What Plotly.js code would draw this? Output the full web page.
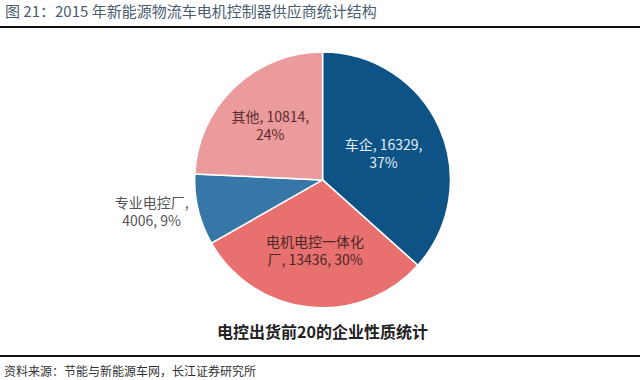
<!DOCTYPE html>
<html>
<head>
<meta charset="utf-8">
<script src="https://cdn.plot.ly/plotly-3.0.1.min.js"></script>
<style>html,body{margin:0;padding:0;background:#fff;}#chart{width:640px;height:380px;}</style>
</head>
<body>
<div id="chart"></div>
<script>
const categories = ['车企', '电机电控一体化厂', '专业电控厂', '其他'];
const values = [16329, 13436, 4006, 10814];
const labelTemplates = [
  '%{label}, %{value:d},<br>%{percent:.0%}',
  '电机电控一体化<br>厂, %{value:d}, %{percent:.0%}',
  '%{label},<br>%{value:d}, %{percent:.0%}',
  '%{label}, %{value:d},<br>%{percent:.0%}'
];
const colors = ['#0d5386', '#e8716f', '#3677a8', '#ec9b9c'];
const textColors = ['#e4eef6', '#4a2626', '#555555', '#5a2c2c'];
const textPositions = ['inside', 'inside', 'outside', 'inside'];

const chartTitle = '图 21：2015 年新能源物流车电机控制器供应商统计结构';
const pieTitle = '电控出货前20的企业性质统计';
const sourceText = '资料来源：节能与新能源车网，长江证券研究所';

const FONT = '"Noto Sans CJK SC", "Noto Sans", sans-serif';

const trace = {
  type: 'pie',
  labels: categories,
  values: values,
  sort: false,
  direction: 'clockwise',
  rotation: 0,
  marker: {colors: colors, line: {color: '#ffffff', width: 1.5}},
  texttemplate: labelTemplates,
  textposition: textPositions,
  insidetextorientation: 'horizontal',
  textfont: {family: FONT, size: 14, color: textColors},
  outsidetextfont: {family: FONT, size: 14, color: '#555555'},
  hoverinfo: 'none',
  showlegend: false,
  automargin: false,
  domain: {x: [0.304, 0.704], y: [0.19, 0.863]}
};

const layout = {
  width: 640, height: 380,
  margin: {l: 0, r: 0, t: 0, b: 0},
  paper_bgcolor: '#ffffff',
  plot_bgcolor: '#ffffff',
  font: {family: FONT},
  shapes: [
    {type: 'line', xref: 'paper', yref: 'paper', x0: 0, x1: 1, y0: 1 - 27/380, y1: 1 - 27/380, line: {color: '#111111', width: 2}},
    {type: 'line', xref: 'paper', yref: 'paper', x0: 0, x1: 1, y0: 1 - 356/380, y1: 1 - 356/380, line: {color: '#111111', width: 2}}
  ],
  annotations: [
    {text: chartTitle, xref: 'paper', yref: 'paper', x: 3/640, y: 1 - 11/380, xanchor: 'left', yanchor: 'middle', showarrow: false, font: {family: FONT, size: 15, color: '#4a5d70'}},
    {text: '<b>' + pieTitle + '</b>', xref: 'paper', yref: 'paper', x: 322/640, y: 1 - 331/380, xanchor: 'center', yanchor: 'middle', showarrow: false, font: {family: FONT, size: 16, color: '#222222'}},
    {text: sourceText, xref: 'paper', yref: 'paper', x: 2/640, y: 1 - 370/380, xanchor: 'left', yanchor: 'middle', showarrow: false, font: {family: FONT, size: 12, color: '#333333'}}
  ]
};

Plotly.newPlot('chart', [trace], layout, {displayModeBar: false, staticPlot: true});
</script>
</body>
</html>
